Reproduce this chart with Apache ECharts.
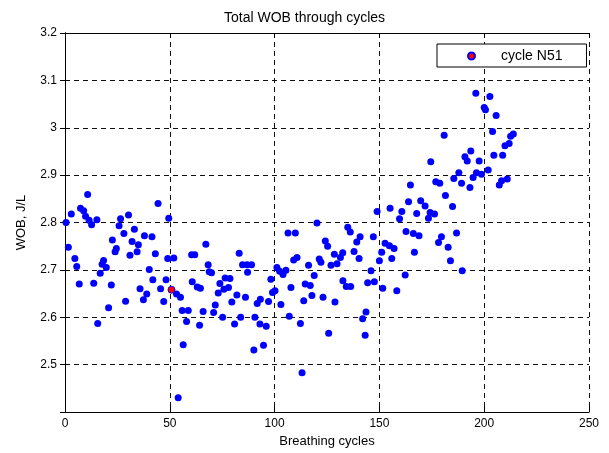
<!DOCTYPE html>
<html>
<head>
<meta charset="utf-8">
<script src="https://cdn.jsdelivr.net/npm/echarts@6/dist/echarts.min.js"></script>
<style>
  html, body { margin: 0; padding: 0; background: #fff; }
  #chart { width: 609px; height: 453px; }
</style>
</head>
<body>
<div id="chart"></div>
<script>
// breathing cycle number of each point
var cycles = [
  0.5, 1.6, 3.0, 4.7, 5.6, 6.8, 7.4, 8.9, 9.8, 10.8, 11.5, 12.7, 13.7, 15.2, 15.6, 16.8, 17.7, 18.4, 19.7, 20.8,
  22.1, 22.6, 23.9, 24.5, 25.8, 26.5, 28.1, 28.9, 30.3, 31.0, 32.0, 33.1, 34.4, 35.0, 35.8, 37.4, 37.9, 39.0, 40.2, 41.5,
  41.9, 43.1, 44.4, 45.6, 47.1, 48.2, 49.0, 49.5, 51.9, 53.2, 54.0, 55.1, 55.9, 56.4, 58.0, 58.8, 60.4, 60.7, 61.9, 63.1,
  64.2, 64.6, 65.9, 67.2, 68.3, 68.8, 69.9, 70.9, 71.7, 73.1, 73.9, 75.2, 75.8, 76.4, 78.0, 78.7, 79.6, 80.9, 82.0, 83.1,
  83.8, 84.7, 86.1, 86.9, 87.1, 89.0, 90.1, 90.6, 91.7, 93.0, 93.2, 94.7, 96.0, 97.1, 98.2, 99.0, 100.2, 101.1, 102.4, 103.0,
  104.0, 105.4, 106.4, 107.0, 107.8, 109.1, 109.9, 110.7, 112.3, 113.1, 113.9, 114.6, 116.2, 117.0, 117.8, 118.9, 120.2, 121.3, 122.1, 123.1,
  124.2, 125.3, 125.8, 126.9, 128.5, 128.8, 129.8, 131.4, 132.5, 132.6, 134.2, 134.9, 136.1, 136.3, 137.9, 139.2, 140.3, 140.8, 142.0, 143.2,
  143.6, 144.4, 146.0, 147.1, 147.6, 148.9, 150.0, 151.1, 151.6, 152.7, 154.8, 155.1, 155.9, 157.0, 158.3, 159.6, 160.7, 162.3, 162.7, 163.9,
  164.8, 166.2, 166.7, 167.8, 168.9, 169.7, 171.8, 173.4, 174.2, 174.5, 176.3, 176.9, 178.2, 178.8, 179.6, 180.9, 181.5, 182.8, 183.9, 184.9,
  185.5, 186.8, 187.9, 189.2, 189.5, 190.8, 191.9, 193.2, 193.6, 194.7, 196.0, 196.3, 197.6, 198.7, 200.0, 200.6, 201.9, 202.7, 204.0, 204.6,
  205.7, 207.2, 208.3, 208.8, 209.9, 211.0, 211.9, 212.6, 213.9
];
// WOB, J/L for each cycle above
var wob = [
  2.800, 2.748, 2.818, 2.724, 2.707, 2.670, 2.830, 2.825, 2.813, 2.859, 2.805, 2.795, 2.672, 2.806, 2.587, 2.693, 2.712, 2.720, 2.705, 2.620,
  2.668, 2.763, 2.738, 2.745, 2.793, 2.808, 2.777, 2.634, 2.816, 2.731, 2.760, 2.786, 2.738, 2.753, 2.660, 2.637, 2.772, 2.649, 2.701, 2.770,
  2.679, 2.734, 2.840, 2.660, 2.633, 2.679, 2.724, 2.809, 2.725, 2.649, 2.430, 2.642, 2.614, 2.542, 2.591, 2.614, 2.732, 2.675, 2.732, 2.664,
  2.583, 2.661, 2.612, 2.754, 2.711, 2.696, 2.694, 2.610, 2.626, 2.651, 2.671, 2.600, 2.659, 2.683, 2.663, 2.682, 2.632, 2.586, 2.647, 2.735,
  2.600, 2.711, 2.642, 2.711, 2.695, 2.711, 2.531, 2.600, 2.629, 2.586, 2.638, 2.541, 2.581, 2.633, 2.680, 2.652, 2.656, 2.705, 2.697, 2.627,
  2.690, 2.699, 2.778, 2.602, 2.663, 2.721, 2.778, 2.726, 2.587, 2.483, 2.635, 2.670, 2.710, 2.667, 2.646, 2.688, 2.799, 2.723, 2.716, 2.642,
  2.761, 2.750, 2.566, 2.710, 2.733, 2.632, 2.713, 2.726, 2.736, 2.677, 2.665, 2.790, 2.780, 2.665, 2.739, 2.759, 2.724, 2.770, 2.597, 2.562,
  2.611, 2.673, 2.698, 2.770, 2.675, 2.823, 2.719, 2.737, 2.661, 2.756, 2.751, 2.830, 2.724, 2.745, 2.656, 2.808, 2.823, 2.689, 2.781, 2.844,
  2.879, 2.777, 2.737, 2.819, 2.772, 2.846, 2.835, 2.809, 2.821, 2.928, 2.818, 2.886, 2.758, 2.883, 2.770, 2.984, 2.857, 2.748, 2.719, 2.834,
  2.893, 2.778, 2.905, 2.883, 2.698, 2.939, 2.930, 2.874, 2.951, 2.895, 3.073, 2.905, 2.930, 2.902, 3.043, 3.038, 2.911, 3.066, 2.992, 2.942,
  3.026, 2.879, 2.888, 2.942, 2.962, 2.892, 2.967, 2.982, 2.987
];
// highlighted cycle
var n51Cycle = [50.8];
var n51Wob = [2.658];

var xTicks = [0, 50, 100, 150, 200, 250];
var yTicks = [2.4, 2.5, 2.6, 2.7, 2.8, 2.9, 3.0, 3.1, 3.2];

var fontName = "Liberation Sans, Arial, sans-serif";

var chart = echarts.init(document.getElementById("chart"), null, { renderer: "canvas" });

var allPoints = cycles.map(function (c, i) { return [c, wob[i]]; });
var n51Points = n51Cycle.map(function (c, i) { return [c, n51Wob[i]]; });

var dashed = { show: true, lineStyle: { color: "#111", type: [5, 4], width: 1 } };
var tick = { show: true, inside: true, length: 5, lineStyle: { color: "#000" } };
var line = { show: true, lineStyle: { color: "#000", width: 1 } };

var option = {
  animation: false,
  backgroundColor: "#fff",
  title: {
    text: "Total WOB through cycles",
    left: "center",
    top: 6,
    textStyle: { fontFamily: fontName, fontSize: 14, fontWeight: "normal", color: "#000" }
  },
  grid: { left: 65, right: 20, top: 33, bottom: 40 },
  legend: {
    data: ["cycle N51"],
    left: 437,
    top: 44,
    orient: "horizontal",
    backgroundColor: "#fff",
    borderColor: "#000",
    borderWidth: 1,
    borderRadius: 0,
    padding: [5, 24, 4, 30],
    itemWidth: 7,
    itemHeight: 7,
    textStyle: { fontFamily: fontName, fontSize: 14, color: "#000", padding: [0, 0, 0, 21] }
  },
  xAxis: [
    {
      type: "value",
      min: xTicks[0],
      max: xTicks[xTicks.length - 1],
      interval: 50,
      name: "Breathing cycles",
      nameLocation: "middle",
      nameGap: 23,
      nameTextStyle: { fontFamily: fontName, fontSize: 13, color: "#000" },
      axisLine: line,
      axisTick: tick,
      axisLabel: { fontFamily: fontName, fontSize: 12, color: "#000", margin: 6 },
      splitLine: dashed
    },
    {
      type: "value",
      position: "top",
      min: xTicks[0],
      max: xTicks[xTicks.length - 1],
      interval: 50,
      axisLine: line,
      axisTick: tick,
      axisLabel: { show: false },
      splitLine: { show: false }
    }
  ],
  yAxis: [
    {
      type: "value",
      min: yTicks[0],
      max: yTicks[yTicks.length - 1],
      interval: 0.1,
      name: "WOB, J/L",
      nameLocation: "middle",
      nameGap: 37,
      nameTextStyle: { fontFamily: fontName, fontSize: 13, color: "#000" },
      axisLine: line,
      axisTick: tick,
      axisLabel: {
        fontFamily: fontName, fontSize: 12, color: "#000", margin: 8,
        formatter: function (v) {
          if (Math.abs(v - yTicks[0]) < 1e-6) return "";
          return String(+v.toFixed(1));
        }
      },
      splitLine: dashed
    },
    {
      type: "value",
      position: "right",
      min: yTicks[0],
      max: yTicks[yTicks.length - 1],
      interval: 0.1,
      axisLine: line,
      axisTick: tick,
      axisLabel: { show: false },
      splitLine: { show: false }
    }
  ],
  series: [
    {
      name: "all cycles",
      type: "scatter",
      xAxisIndex: 0,
      yAxisIndex: 0,
      symbol: "circle",
      symbolSize: 7,
      itemStyle: { color: "#0000ff", opacity: 1 },
      data: allPoints,
      z: 2
    },
    {
      name: "cycle N51",
      type: "scatter",
      xAxisIndex: 0,
      yAxisIndex: 0,
      symbol: "circle",
      symbolSize: 7,
      itemStyle: { color: "#ff0000", borderColor: "#0000ff", borderWidth: 1, opacity: 1 },
      data: n51Points,
      z: 3
    }
  ]
};

chart.setOption(option);
</script>
</body>
</html>
